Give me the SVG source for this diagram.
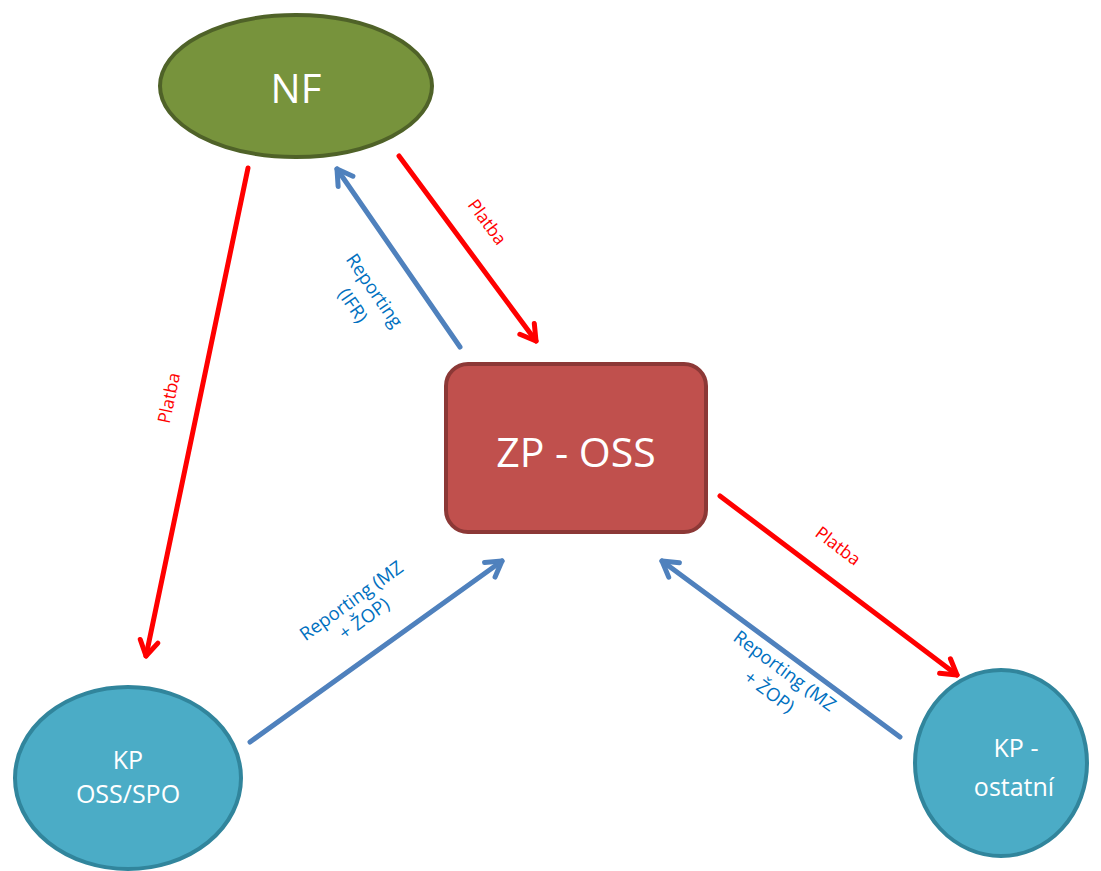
<svg xmlns="http://www.w3.org/2000/svg" width="1101" height="871" viewBox="0 0 1101 871">
<style>
.red{stroke:#FF0000;stroke-width:5;fill:none;stroke-linecap:round;stroke-linejoin:round}
.blue{stroke:#4F81BD;stroke-width:5;fill:none;stroke-linecap:round;stroke-linejoin:round}
.node{font-family:"Open Sans","Liberation Sans",sans-serif;fill:#FFFFFF;text-anchor:middle}
.lr{font-family:"Open Sans","Liberation Sans",sans-serif;font-size:17.5px;fill:#FF0000;text-anchor:middle}
.lb{font-family:"Open Sans","Liberation Sans",sans-serif;font-size:18.5px;fill:#0070C0;text-anchor:middle}
</style>
<defs>
<marker id="ar" markerUnits="userSpaceOnUse" viewBox="-20 -12 24 24" markerWidth="24" markerHeight="24" refX="0" refY="0" orient="auto">
<path d="M-15,-9 L0,0 L-15,9" fill="none" stroke="#FF0000" stroke-width="5" stroke-linecap="round" stroke-linejoin="round"/>
</marker>
<marker id="ab" markerUnits="userSpaceOnUse" viewBox="-20 -12 24 24" markerWidth="24" markerHeight="24" refX="0" refY="0" orient="auto">
<path d="M-15,-9 L0,0 L-15,9" fill="none" stroke="#4F81BD" stroke-width="5" stroke-linecap="round" stroke-linejoin="round"/>
</marker>
</defs>
<rect width="1101" height="871" fill="#FFFFFF"/>
<g id="connectors">
<line class="red" x1="248" y1="168" x2="146" y2="656" marker-end="url(#ar)"/>
<line class="blue" x1="460" y1="347" x2="337" y2="169" marker-end="url(#ab)"/>
<line class="red" x1="399" y1="156" x2="536" y2="341" marker-end="url(#ar)"/>
<line class="blue" x1="250" y1="742" x2="502" y2="561" marker-end="url(#ab)"/>
<line class="red" x1="720" y1="496" x2="957" y2="675" marker-end="url(#ar)"/>
<line class="blue" x1="900" y1="737" x2="662" y2="561" marker-end="url(#ab)"/>
<text class="lr" transform="translate(487,222) rotate(53.4)" dy="6">Platba</text>
<text class="lb" transform="translate(365,297) rotate(55.5)"><tspan x="0" y="-5">Reporting</tspan><tspan x="0" y="21">(IFR)</tspan></text>
<text class="lr" transform="translate(169,398) rotate(-78)" dy="6">Platba</text>
<text class="lb" transform="translate(358,610) rotate(-35.7)"><tspan x="0" y="-5">Reporting (MZ</tspan><tspan x="0" y="17">+ ŽOP)</tspan></text>
<text class="lr" transform="translate(838,546) rotate(37)" dy="6">Platba</text>
<text class="lb" transform="translate(778,680) rotate(36.5)"><tspan x="0" y="-5">Reporting (MZ</tspan><tspan x="0" y="21">+ ŽOP)</tspan></text>
</g>
<g id="nf">
<ellipse cx="296" cy="86" rx="136" ry="71" fill="#77933C" stroke="#4F6228" stroke-width="4"/>
<text class="node" x="296" y="103" font-size="40">NF</text>
</g>
<g id="zp">
<rect x="446" y="364" width="260" height="168" rx="22" fill="#C0504D" stroke="#8C3836" stroke-width="4"/>
<text class="node" x="576" y="467" font-size="41">ZP - OSS</text>
</g>
<g id="kp-oss">
<ellipse cx="128" cy="778" rx="113" ry="91" fill="#4BACC6" stroke="#31859C" stroke-width="4"/>
<text class="node" font-size="25"><tspan x="128" y="769">KP</tspan><tspan x="128" y="803">OSS/SPO</tspan></text>
</g>
<g id="kp-ostatni">
<ellipse cx="1001" cy="763" rx="86" ry="93" fill="#4BACC6" stroke="#31859C" stroke-width="4"/>
<text class="node" font-size="25"><tspan x="1016" y="757">KP -</tspan><tspan x="1014" y="796">ostatní</tspan></text>
</g>
</svg>
